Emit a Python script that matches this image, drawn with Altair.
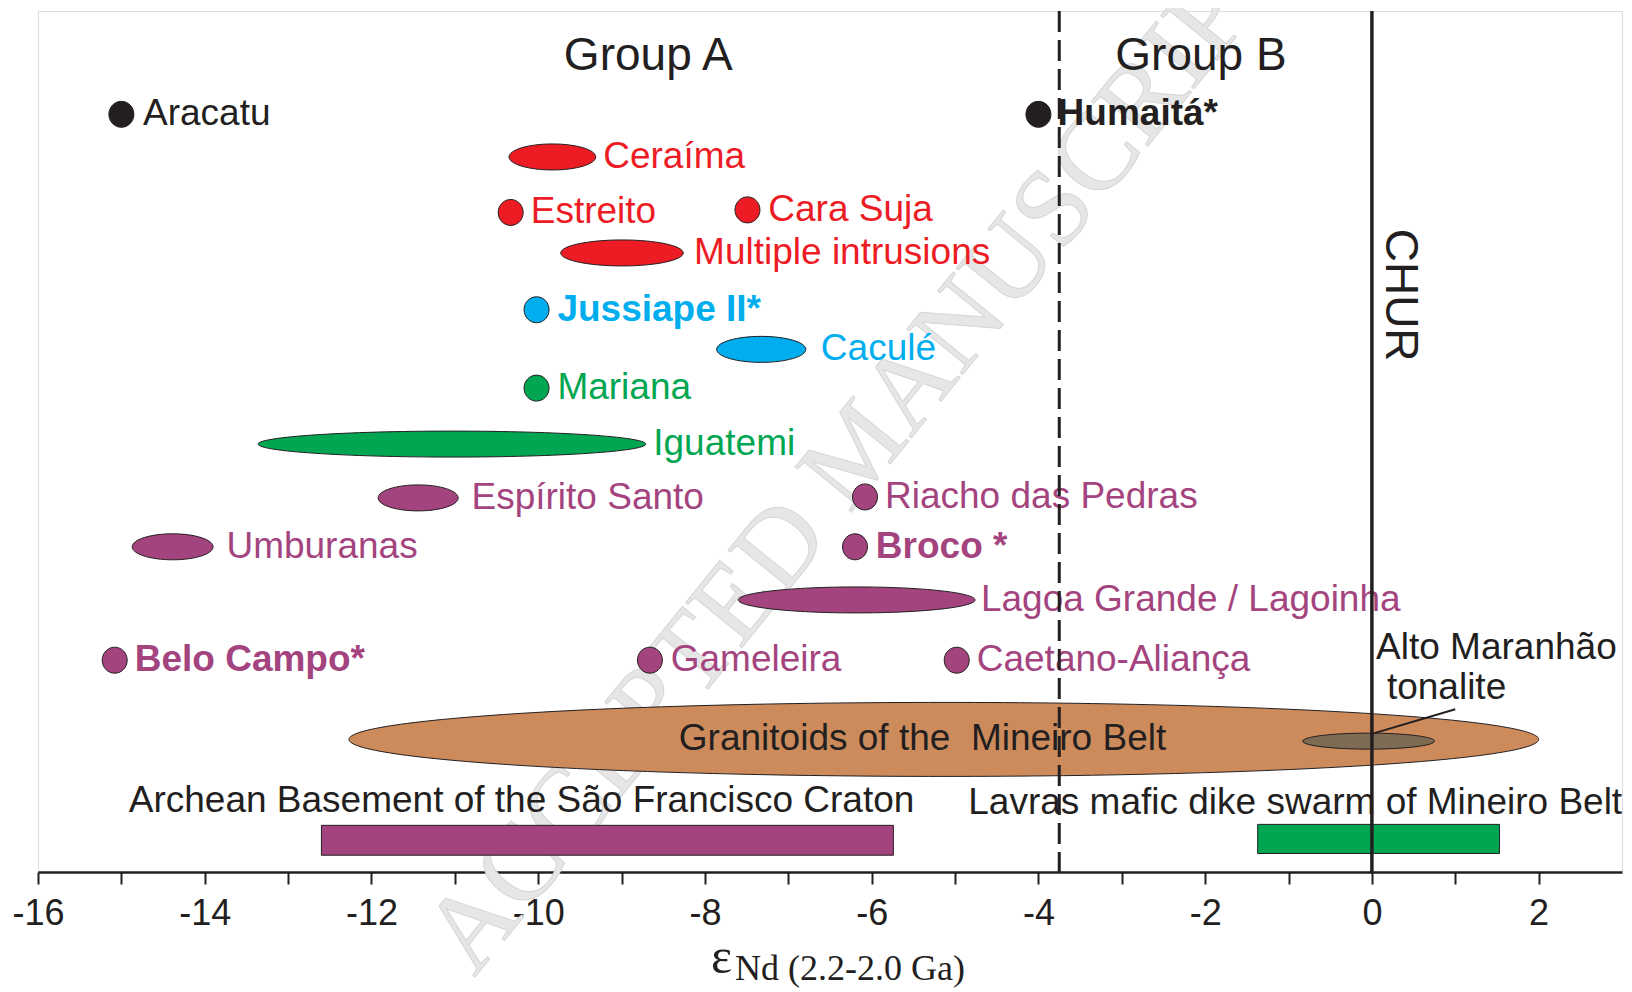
import altair as alt
import pandas as pd

# ---------------- data ----------------
names = ["Aracatu", "Humaitá*", "Ceraíma", "Estreito", "Cara Suja", "Multiple intrusions",
         "Jussiape II*", "Caculé", "Mariana", "Iguatemi", "Espírito Santo",
         "Riacho das Pedras", "Umburanas", "Broco *", "Lagoa Grande / Lagoinha",
         "Belo Campo*", "Gameleira", "Caetano-Aliança"]
eps_min = [-15.0, -4.0, -10.35, -10.33, -7.49, -9.73, -10.02, -7.86, -10.02, -13.36,
           -11.92, -6.08, -14.87, -6.2, -7.6, -15.08, -8.66, -4.98]
eps_max = [-15.0, -4.0, -9.31, -10.33, -7.49, -8.26, -10.02, -6.79, -10.02, -8.71,
           -10.96, -6.08, -13.9, -6.2, -4.76, -15.08, -8.66, -4.98]
row_level = [88.0, 88.0, 83.05, 76.6, 76.9, 71.9, 65.3, 60.7, 56.2, 49.7,
             43.45, 43.56, 37.77, 37.77, 31.6, 24.6, 24.6, 24.6]
label_at = [-14.74, -3.77, -9.22, -10.09, -7.24, -8.13, -9.77, -6.61, -9.77, -8.62,
            -10.8, -5.84, -13.74, -5.95, -4.69, -14.84, -8.41, -4.74]
suite = ["black", "black", "red", "red", "red", "red", "blue", "blue", "green", "green",
         "purple", "purple", "purple", "purple", "purple", "purple", "purple", "purple"]
bold = [False, True, False, False, False, False, True, False, False, False,
        False, False, False, True, False, True, False, False]

# Granitoids of the Mineiro Belt and Alto Maranhão tonalite (ranges)
granitoid_range = [-12.27, 2.0]
granitoid_level = 15.4
tonalite_range = [-0.83, 0.75]
tonalite_level = 15.2
leader_from = [0.02, 16.1]
leader_to = [1.0, 18.9]

# Bars
bar_names = ["Archean Basement of the São Francisco Craton", "Lavras mafic dike swarm of Mineiro Belt"]
bar_min = [-12.6, -1.37]
bar_max = [-5.74, 1.53]
bar_low = [1.95, 2.15]
bar_high = [5.42, 5.53]
bar_label_x = [-10.2, -0.92]
bar_label_y = [8.3, 8.06]
bar_suite = ["purple", "green"]

group_labels = ["Group A", "Group B"]
group_x = [-8.68, -2.05]
group_y = [94.76, 94.76]
group_boundary = -3.75
chur = 0.0

# ---------------- styles ----------------
PALETTE = {"black": "#231F20", "red": "#ED1C24", "blue": "#00AEEF",
           "green": "#00A651", "purple": "#A4447F"}
INK = "#231F20"
FONT = "Liberation Sans, Arial, Helvetica, sans-serif"
SERIF = "Liberation Serif, Times New Roman, serif"
W, H = 1584, 861
XDOM = [-16, 3]
PX = W / (XDOM[1] - XDOM[0])
K = 0.5523


def ellipse_path(ratio):
    r = ratio
    return (f"M-1,0C-1,{-K*r:.4f},{-K:.4f},{-r:.4f},0,{-r:.4f}"
            f"C{K:.4f},{-r:.4f},1,{-K*r:.4f},1,0"
            f"C1,{K*r:.4f},{K:.4f},{r:.4f},0,{r:.4f}"
            f"C{-K:.4f},{r:.4f},-1,{K*r:.4f},-1,0Z")


rows = []
for i, n in enumerate(names):
    span = eps_max[i] - eps_min[i]
    if span == 0:
        wpx, hpx = 25.0, 26.0
    else:
        wpx, hpx = span * PX, 26.0
    rows.append(dict(name=n, x=(eps_min[i] + eps_max[i]) / 2, y=row_level[i],
                     lx=label_at[i], col=PALETTE[suite[i]], bold=bold[i],
                     path=ellipse_path(hpx / wpx), sz=wpx ** 2))
df = pd.DataFrame(rows)

big = pd.DataFrame([
    dict(x=sum(granitoid_range) / 2, y=granitoid_level, col="#CD8B5C",
         path=ellipse_path(74 / ((granitoid_range[1] - granitoid_range[0]) * PX)),
         sz=((granitoid_range[1] - granitoid_range[0]) * PX) ** 2, o=0),
    dict(x=sum(tonalite_range) / 2, y=tonalite_level, col="#7E6B53",
         path=ellipse_path(16 / ((tonalite_range[1] - tonalite_range[0]) * PX)),
         sz=((tonalite_range[1] - tonalite_range[0]) * PX) ** 2, o=1),
])

bars = pd.DataFrame(dict(name=bar_names, x=bar_min, x2=bar_max, y=bar_low, y2=bar_high,
                         lx=bar_label_x, ly=bar_label_y,
                         col=[PALETTE[s] for s in bar_suite]))

xaxis = alt.Axis(values=list(range(-16, 3)),
                 labelExpr="datum.value % 2 === 0 ? '' + datum.value : ''",
                 tickSize=12, tickWidth=2, tickColor=INK, domainWidth=2.5, domainColor=INK,
                 labelFontSize=36, labelFont=FONT, labelColor=INK, labelPadding=12,
                 labelFlush=False, labelOverlap=False, grid=False, title=None)
xscale = alt.Scale(domain=XDOM, nice=False, zero=False)
yscale = alt.Scale(domain=[0, 100], nice=False, zero=False)


def X(f="x"):
    return alt.X(f"{f}:Q", scale=xscale, axis=xaxis)


def Y(f="y"):
    return alt.Y(f"{f}:Q", scale=yscale, axis=None)


base = alt.Chart(df)

# watermark
wm = alt.Chart(pd.DataFrame(dict(t=["ACCEPTED MANUSCRIPT"], x=[-6.15], y=[49.0]))).mark_text(
    font=SERIF, fontSize=110, angle=309, color="#E6E6E6", stroke="#D6D6D6", strokeWidth=1,
    align="center", baseline="middle"
).encode(x=X(), y=Y(), text="t:N")

big_layer = alt.Chart(big).mark_point(filled=True, opacity=1, stroke=INK, strokeWidth=1).encode(
    x=X(), y=Y(), shape=alt.Shape("path:N", scale=None), size=alt.Size("sz:Q", scale=None),
    fill=alt.Fill("col:N", scale=None), order=alt.Order("o:Q"))

gran_text = alt.Chart(pd.DataFrame(dict(t=["Granitoids of the \u00a0Mineiro Belt"], x=[-5.39], y=[granitoid_level]))).mark_text(
    font=FONT, fontSize=37, color=INK, align="center", baseline="middle").encode(x=X(), y=Y(), text="t:N")

leader = alt.Chart(pd.DataFrame(dict(x=[leader_from[0]], y=[leader_from[1]], x2=[leader_to[0]], y2=[leader_to[1]]))).mark_rule(
    color=INK, strokeWidth=2).encode(x=X(), y=Y(), x2="x2:Q", y2="y2:Q")

alto = alt.Chart(pd.DataFrame(dict(t=["Alto Maranhão", "tonalite"], x=[0.05, 0.18], y=[26.06, 21.35]))).mark_text(
    font=FONT, fontSize=37, color=INK, align="left", baseline="middle").encode(x=X(), y=Y(), text="t:N")

bar_layer = alt.Chart(bars).mark_rect(stroke=INK, strokeWidth=1).encode(
    x=X(), x2="x2:Q", y=Y(), y2="y2:Q", fill=alt.Fill("col:N", scale=None))
bar_text = alt.Chart(bars).mark_text(font=FONT, fontSize=37, color=INK, align="center", baseline="middle").encode(
    x=X("lx"), y=Y("ly"), text="name:N")

symbols = base.mark_point(filled=True, opacity=1, stroke=INK, strokeWidth=1).encode(
    x=X(), y=Y(), shape=alt.Shape("path:N", scale=None), size=alt.Size("sz:Q", scale=None),
    fill=alt.Fill("col:N", scale=None))

labels_n = base.transform_filter("!datum.bold").mark_text(
    font=FONT, fontSize=37, align="left", baseline="middle").encode(
    x=X("lx"), y=Y(), text="name:N", color=alt.Color("col:N", scale=None))
labels_b = base.transform_filter("datum.bold").mark_text(
    font=FONT, fontSize=37, fontWeight="bold", align="left", baseline="middle").encode(
    x=X("lx"), y=Y(), text="name:N", color=alt.Color("col:N", scale=None))

groups = alt.Chart(pd.DataFrame(dict(t=group_labels, x=group_x, y=group_y))).mark_text(
    font=FONT, fontSize=46, color=INK, align="center", baseline="middle").encode(x=X(), y=Y(), text="t:N")

chur_text = alt.Chart(pd.DataFrame(dict(t=["CHUR"], x=[0.34], y=[67.0]))).mark_text(
    font=FONT, fontSize=46, color=INK, align="center", baseline="middle", angle=90).encode(x=X(), y=Y(), text="t:N")

dash = alt.Chart(pd.DataFrame(dict(x=[group_boundary]))).mark_rule(
    color=INK, strokeWidth=3, strokeDash=[21, 8]).encode(x=X())
chur_line = alt.Chart(pd.DataFrame(dict(x=[chur]))).mark_rule(
    color=INK, strokeWidth=3.5).encode(x=X())

eps = alt.Chart(pd.DataFrame(dict(t=["ε"], x=[-7.80], y=[-11.7]))).mark_text(
    font=SERIF, fontSize=50, color=INK, align="center", baseline="alphabetic").encode(x=X(), y=Y(), text="t:N")
eps_sub = alt.Chart(pd.DataFrame(dict(t=["Nd (2.2-2.0 Ga)"], x=[-7.64], y=[-12.6]))).mark_text(
    font=SERIF, fontSize=36, color=INK, align="left", baseline="alphabetic").encode(x=X(), y=Y(), text="t:N")

chart = alt.layer(
    wm, big_layer, gran_text, leader, alto, bar_layer, bar_text, symbols, labels_n, labels_b,
    groups, chur_text, dash, chur_line, eps, eps_sub
).properties(
    width=W, height=H,
    padding={"left": 30, "top": 3, "right": 1, "bottom": 118},
    autosize=alt.AutoSizeParams(type="none"),
).configure_view(stroke=INK, strokeWidth=2).configure(background="white")

chart.save("out.html", embed_options={"renderer": "svg", "actions": False})
